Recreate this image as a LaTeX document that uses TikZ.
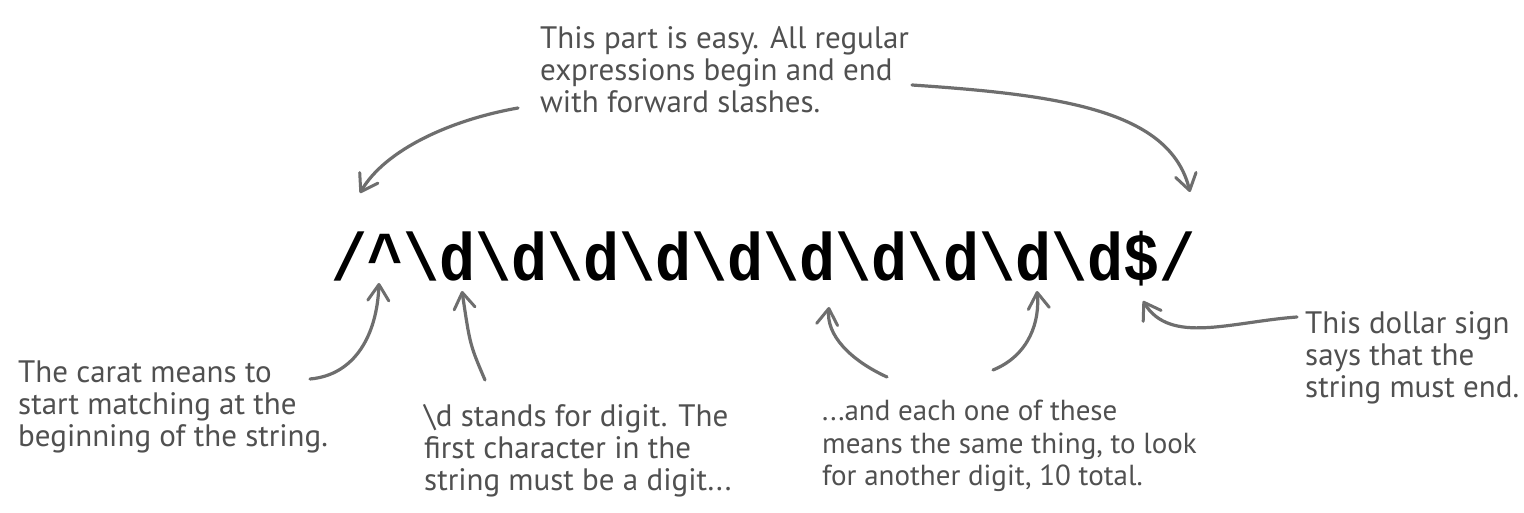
\documentclass[tikz,border=0pt]{standalone}
\usepackage{fontspec}
\usepackage{graphicx}
\setmainfont{PT Sans}
\newfontfamily\regexfont{Liberation Mono}
\usetikzlibrary{arrows.meta}
\definecolor{handgray}{HTML}{505050}
\definecolor{arrowgray}{HTML}{6E6E6E}
\tikzset{
  note/.style={align=left, inner sep=0pt, text=handgray, font=\fontsize{31}{32}\selectfont},
  smallnote/.style={note, font=\fontsize{29}{32.5}\selectfont},
  pointer/.style={draw=arrowgray, line width=3.2pt, line cap=round,
    -{Straight Barb[length=16pt,width=21pt,line width=3pt,round]}},
  regex/.style={inner sep=0pt, font=\regexfont\bfseries\fontsize{60}{60}\selectfont}
}
\begin{document}
\begin{tikzpicture}[x=1pt,y=-1pt]
\useasboundingbox[fill=white] (0,0) rectangle (1524,513);

\node[regex, anchor=base west] (re) at (331,280) {\scalebox{1}[1.12]{/\^{}\textbackslash d\textbackslash d\textbackslash d\textbackslash d\textbackslash d\textbackslash d\textbackslash d\textbackslash d\textbackslash d\textbackslash d\$/}};

\node[note, anchor=north west] (top) at (540,26) {This part is easy. All regular\\expressions begin and end\\with forward slashes.};
\node[note, anchor=north west] (carat) at (18,361) {The carat means to\\start matching at the\\beginning of the string.};
\node[note, anchor=north west] (dig) at (424,404) {\textbackslash d stands for digit. The\\first character in the\\string must be a digit...};
\node[smallnote, anchor=north west] (each) at (822,400) {...and each one of these\\means the same thing, to look\\for another digit, 10 total.};
\node[note, anchor=north west] (dollar) at (1305,311) {This dollar sign\\says that the\\string must end.};

\coordinate (s1) at (518,108);  \coordinate (t1) at (360,193);
\coordinate (s2) at (912,85);   \coordinate (t2) at (1190,192);
\coordinate (s3) at (310,379);  \coordinate (t3) at (379,283);
\coordinate (s4) at (485,380);  \coordinate (t4) at (462,291);
\coordinate (s5) at (887,377);  \coordinate (t5) at (829,307);
\coordinate (s6) at (993,370);  \coordinate (t6) at (1037,291);
\coordinate (s7) at (1297,317); \coordinate (t7) at (1143,301);

\draw[pointer] (s1) .. controls (450,120) and (385,150) .. (t1);
\draw[pointer] (s2) .. controls (1060,95) and (1170,110) .. (t2);
\draw[pointer] (s3) .. controls (355,375) and (377,335) .. (t3);
\draw[pointer] (s4) .. controls (470,345) .. (t4);
\draw[pointer] (s5) .. controls (850,360) and (826,335) .. (t5);
\draw[pointer] (s6) .. controls (1030,355) and (1040,320) .. (t6);
\draw[pointer] (s7) .. controls (1230,322) and (1170,345) .. (t7);
\end{tikzpicture}
\end{document}
